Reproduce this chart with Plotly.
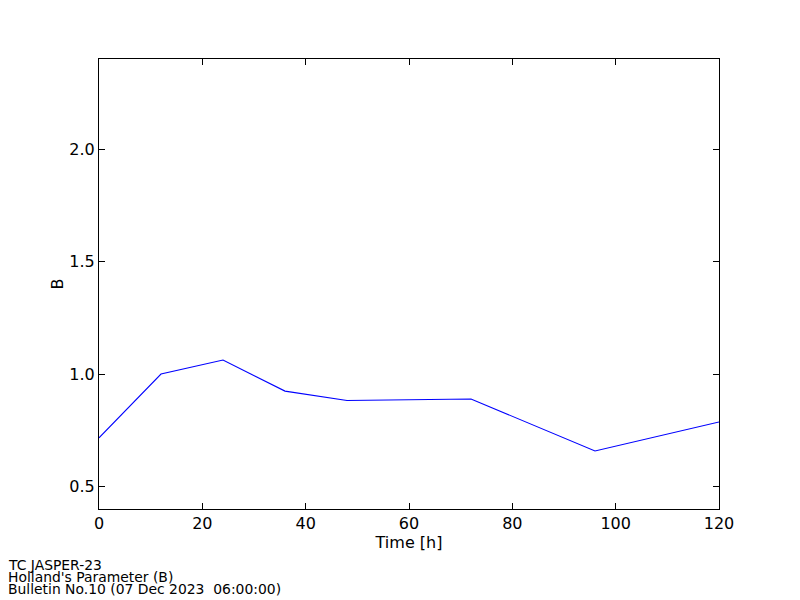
import plotly.graph_objects as go

hours = [0, 12, 24, 36, 48, 72, 96, 120]
b_values = [0.716, 1.0, 1.062, 0.924, 0.882, 0.889, 0.658, 0.787]
footer_lines = ["TC JASPER-23", "Holland's Parameter (B)",
                "Bulletin No.10 (07 Dec 2023&nbsp; 06:00:00)"]

# The page body adds an 8px margin, so the figure is sized to compensate.
OFF = 8
W, H = 800 - OFF, 600 - OFF
L, R, T, B = 99 - OFF, 81, 59 - OFF, 91
ph = H - T - B
pw = W - L - R

fig = go.Figure()
fig.add_trace(go.Scatter(x=hours, y=b_values, mode="lines",
                         line=dict(color="#0000ff", width=1.1), showlegend=False))

font_main = dict(family="DejaVu Sans", size=16, color="black")
axis_common = dict(showgrid=False, zeroline=False, showline=True, linecolor="black",
                   linewidth=1, mirror="ticks", ticks="inside", ticklen=6,
                   tickcolor="black", tickfont=font_main)

fig.update_xaxes(range=[0, 120], tickvals=[0, 20, 40, 60, 80, 100, 120],
                 title=dict(text="Time [h]", font=font_main, standoff=2),
                 **axis_common)
fig.update_yaxes(range=[0.4, 2.4], tickvals=[0.5, 1.0, 1.5, 2.0], tickformat=".1f",
                 title=dict(text="B", font=font_main, standoff=1),
                 **axis_common)

footer_y = [565, 577, 589]
for text, py in zip(footer_lines, footer_y):
    fig.add_annotation(text=text, xref="paper", yref="paper",
                       x=(6 - OFF - L) / pw, y=(H - B - (py - OFF)) / ph,
                       xanchor="left", yanchor="middle", showarrow=False,
                       font=dict(family="DejaVu Sans", size=13.9, color="black"))

fig.update_layout(width=W, height=H, margin=dict(l=L, r=R, t=T, b=B),
                  plot_bgcolor="white", paper_bgcolor="white")

fig.write_html("out.html")
